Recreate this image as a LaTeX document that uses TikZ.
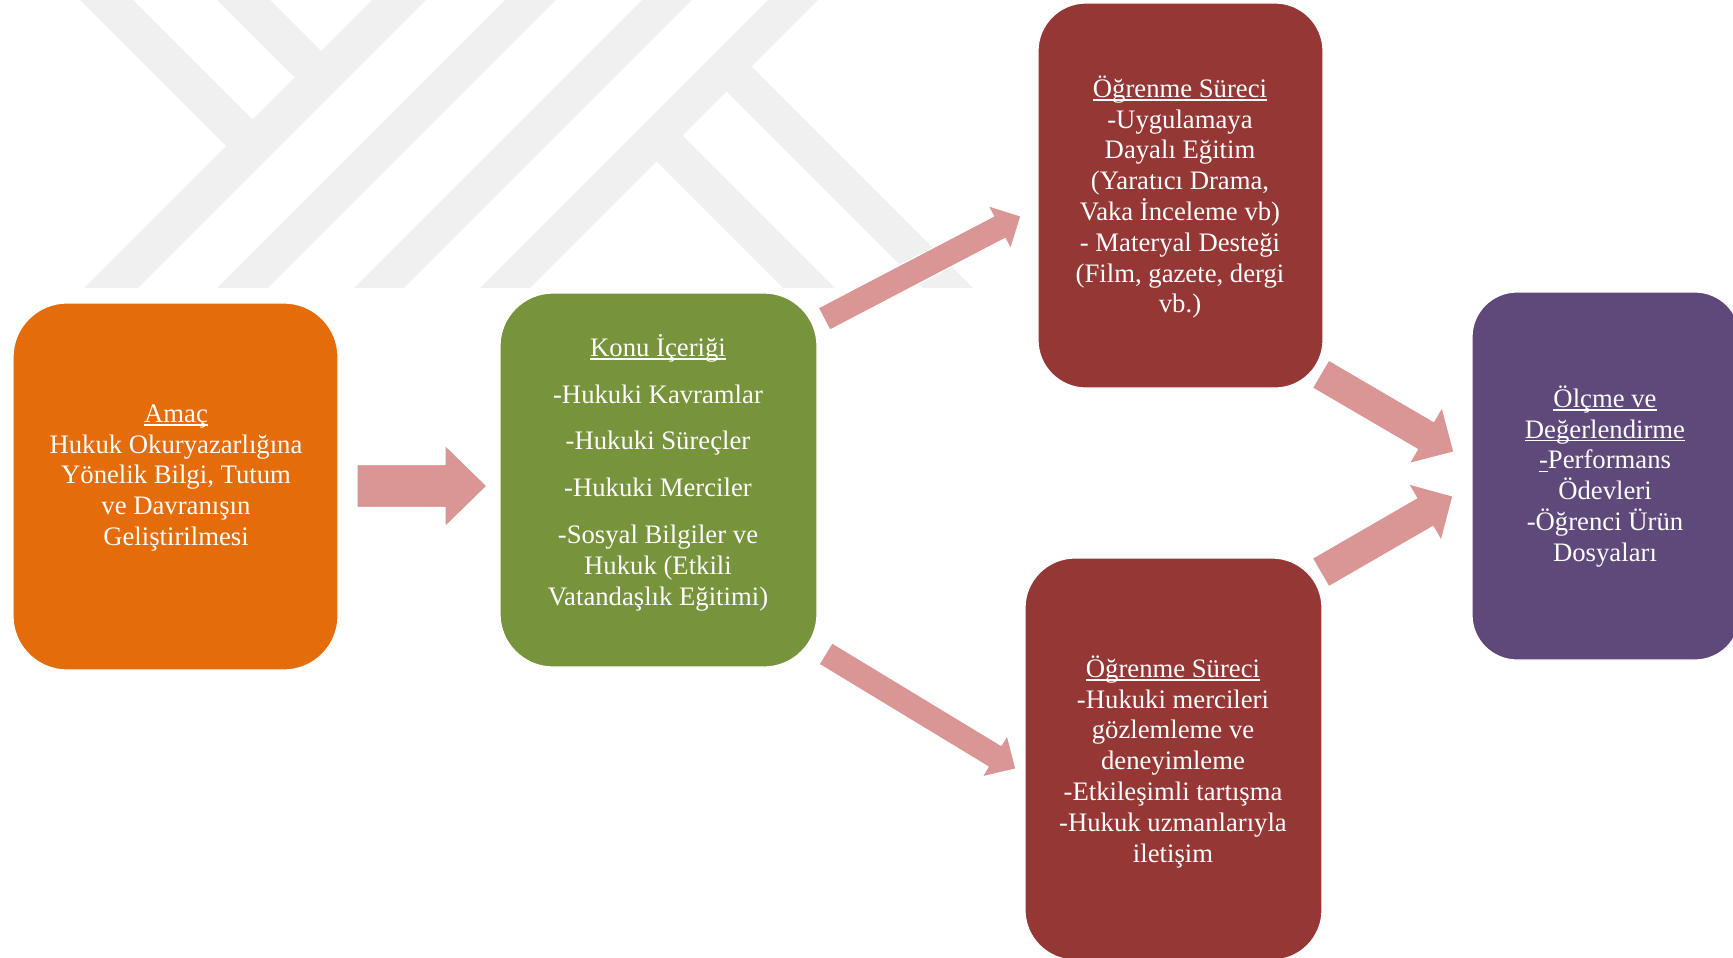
\documentclass[tikz,border=0pt]{standalone}
\usepackage{fontspec}
\setmainfont{Liberation Serif}
\usetikzlibrary{calc}
\definecolor{wm}{RGB}{240,240,240}
\definecolor{cOrange}{RGB}{228,108,10}
\definecolor{cGreen}{RGB}{119,147,60}
\definecolor{cRed}{RGB}{149,55,53}
\definecolor{cPurple}{RGB}{95,73,122}
\definecolor{cArrow}{RGB}{217,150,148}
\newcommand{\uln}[1]{\setbox0\hbox{#1}\rlap{\rule[-3.4pt]{\wd0}{1.3pt}}\box0}
\newcommand{\tb}{\fontsize{26.7}{30.8}\selectfont}
\newcommand{\fs}{\rule{0pt}{24pt}}
% name, tail, tip, shaft half width, head half width, head length
\newcommand{\blockarrow}[6]{%
  \coordinate (#1h) at ($(#3)!#6!(#2)$);
  \path[fill=cArrow, draw=white, line width=1.2pt, line join=round]
    ($(#2)!#4!90:(#3)$) -- ($(#1h)!#4!90:(#3)$) -- ($(#1h)!#5!90:(#3)$) -- (#3)
    -- ($(#1h)!#5!-90:(#3)$) -- ($(#1h)!#4!-90:(#3)$) -- ($(#2)!#4!-90:(#3)$) -- cycle;
}
\tikzset{
  panel/.style={rectangle, draw=white, line width=1.2pt, inner sep=0pt, outer sep=0pt},
  txt/.style={text=white, align=center, anchor=north, inner sep=0pt, font=\tb},
}
\begin{document}
\begin{tikzpicture}[x=1pt, y=-1pt]
\useasboundingbox (0,0) rectangle (1733,958);
\fill[white] (0,0) rectangle (1733,958);
\clip (0,0) rectangle (1733,958);

% watermark
\fill[wm] (372,0) -- (426,0) -- (138,288) -- (84,288) -- cycle;
\fill[wm] (505,0) -- (556,0) -- (268,288) -- (217,288) -- cycle;
\fill[wm] (642,0) -- (692,0) -- (404,288) -- (354,288) -- cycle;
\fill[wm] (768,0) -- (818,0) -- (530,288) -- (480,288) -- cycle;
\fill[wm] (80,0) -- (133,0) -- (266,133) -- (239.5,159.5) -- cycle;
\fill[wm] (217,0) -- (270,0) -- (334.5,64.5) -- (308,91) -- cycle;
\fill[wm] (644,149) -- (670,123) -- (835,288) -- (783,288) -- cycle;
\fill[wm] (714,79) -- (739,54) -- (973,288) -- (923,288) -- cycle;

% boxes
\node[panel, fill=cOrange, minimum width=325pt, minimum height=367pt, rounded corners=54pt] (amac) at (175.5,486.5) {};
\node[panel, fill=cGreen, minimum width=317pt, minimum height=374pt, rounded corners=53pt] (konu) at (658.5,480) {};
\node[panel, fill=cRed, minimum width=285pt, minimum height=385pt, rounded corners=48pt] (surecA) at (1180.5,195.5) {};
\node[panel, fill=cRed, minimum width=297pt, minimum height=402pt, rounded corners=50pt] (surecB) at (1173.5,759) {};
\node[panel, fill=cPurple, minimum width=268pt, minimum height=368pt, rounded corners=45pt] (olcme) at (1606,476) {};

% texts
\node[txt] (amacT) at (176,398) {\fs\uln{Amaç}\\Hukuk Okuryazarlığına\\Yönelik Bilgi, Tutum\\ve Davranışın\\Geliştirilmesi};
\node[txt] (konuT) at (658,332) {\fs\uln{Konu İçeriği}\\[16pt]-Hukuki Kavramlar\\[16pt]-Hukuki Süreçler\\[16pt]-Hukuki Merciler\\[16pt]-Sosyal Bilgiler ve\\Hukuk (Etkili\\Vatandaşlık Eğitimi)};
\node[txt] (surecAT) at (1180,73) {\fs\uln{Öğrenme Süreci}\\-Uygulamaya\\Dayalı Eğitim\\(Yaratıcı Drama,\\Vaka İnceleme vb)\\- Materyal Desteği\\(Film, gazete, dergi\\vb.)};
\node[txt] (surecBT) at (1173,653) {\fs\uln{Öğrenme Süreci}\\-Hukuki mercileri\\gözlemleme ve\\deneyimleme\\-Etkileşimli tartışma\\-Hukuk uzmanlarıyla\\iletişim};
\node[txt] (olcmeT) at (1605,383) {\fs\uln{Ölçme ve}\\\uln{Değerlendirme}\\\uln{-}Performans\\Ödevleri\\-Öğrenci Ürün\\Dosyaları};

% arrows
\coordinate (a1s) at (357,486);   \coordinate (a1e) at (487,486);
\coordinate (a2s) at (824,319);   \coordinate (a2e) at (1021,216);
\coordinate (a3s) at (825.5,653.5); \coordinate (a3e) at (1016,769);
\coordinate (a4s) at (1320.5,374); \coordinate (a4e) at (1454,452);
\coordinate (a5s) at (1320.5,572.5); \coordinate (a5e) at (1453,496);
\blockarrow{a1}{a1s}{a1e}{21.5pt}{41pt}{42pt}
\blockarrow{a2}{a2s}{a2e}{12.6pt}{24.6pt}{24.5pt}
\blockarrow{a3}{a3s}{a3e}{12.6pt}{24.4pt}{25pt}
\blockarrow{a4}{a4s}{a4e}{16.2pt}{32.8pt}{33pt}
\blockarrow{a5}{a5s}{a5e}{16.5pt}{33pt}{32.6pt}
\end{tikzpicture}
\end{document}
